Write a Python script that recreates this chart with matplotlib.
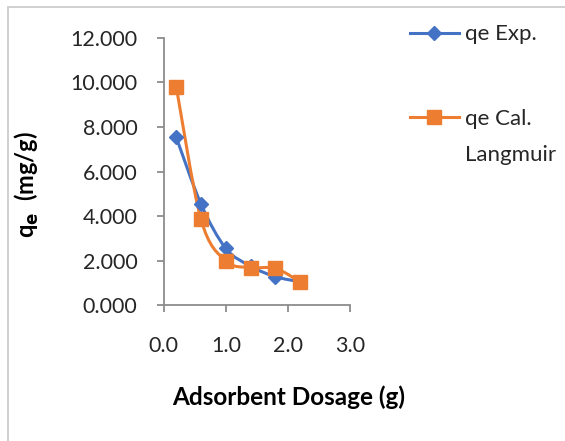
import matplotlib
matplotlib.use('Agg')
import matplotlib.pyplot as plt
from matplotlib.path import Path
from matplotlib.patches import PathPatch, Rectangle
from matplotlib.lines import Line2D

dosage = [0.2, 0.6, 1.0, 1.4, 1.8, 2.2]
qe_exp = [7.54, 4.54, 2.55, 1.75, 1.28, 1.05]
qe_cal = [9.81, 3.85, 1.99, 1.69, 1.65, 1.05]

x_ticks = [0.0, 1.0, 2.0, 3.0]
y_ticks = [0, 2, 4, 6, 8, 10, 12]

blue = '#4472C4'
orange = '#ED7D31'
grey = '#8c8c8c'
txt = '#262626'
plt.rcParams['font.family'] = ['Lato', 'DejaVu Sans']


def smooth_path(xs, ys):
    # excel style smoothed line: bezier segments, catmull-rom control points
    verts = [(xs[0], ys[0])]
    codes = [Path.MOVETO]
    n = len(xs)
    for i in range(n - 1):
        x0, y0 = (xs[i - 1], ys[i - 1]) if i > 0 else (xs[i], ys[i])
        x3, y3 = (xs[i + 2], ys[i + 2]) if i + 2 < n else (xs[i + 1], ys[i + 1])
        c1 = (xs[i] + (xs[i + 1] - x0) / 6, ys[i] + (ys[i + 1] - y0) / 6)
        c2 = (xs[i + 1] - (x3 - xs[i]) / 6, ys[i + 1] - (y3 - ys[i]) / 6)
        verts += [c1, c2, (xs[i + 1], ys[i + 1])]
        codes += [Path.CURVE4] * 3
    return Path(verts, codes)


fig = plt.figure(figsize=(5.65, 4.41), dpi=100)
ax = fig.add_axes([0.290, 0.308, 0.329, 0.606])

for ys, col in [(qe_exp, blue), (qe_cal, orange)]:
    ax.add_patch(PathPatch(smooth_path(dosage, ys), fill=False,
                           edgecolor=col, lw=2.2, capstyle='round'))
ax.plot(dosage, qe_exp, 'D', color=blue, ms=7, zorder=3)
ax.plot(dosage, qe_cal, 's', color=orange, ms=10, zorder=4)

ax.set_xlim(0, 3)
ax.set_ylim(0, 12)
ax.set_xticks(x_ticks)
ax.set_yticks(y_ticks)
ax.set_xticklabels(['%.1f' % v for v in x_ticks])
ax.set_yticklabels(['%.3f' % v for v in y_ticks])
for s in ['top', 'right']:
    ax.spines[s].set_visible(False)
for s in ['left', 'bottom']:
    ax.spines[s].set_color(grey)
    ax.spines[s].set_linewidth(1.3)
ax.tick_params(axis='both', colors=grey, width=1.3, length=5,
               labelcolor=txt, labelsize=15.5)
ax.tick_params(axis='x', pad=17)
ax.tick_params(axis='y', pad=14)

ax.set_xlabel('Adsorbent Dosage (g)', fontsize=17.5, fontweight='bold', color='black')
ax.xaxis.set_label_coords(0.67, -0.30)
ax.set_ylabel(r'q$_\mathbf{e}$  (mg/g)', fontsize=17, fontweight='bold', color='black')
ax.yaxis.set_label_coords(-0.66, 0.45)

# legend: excel puts the wrapped second line below, handle on the first line
handles = [Line2D([], [], color=blue, lw=2.2, marker='D', ms=7),
           Line2D([], [], color=orange, lw=2.2, marker='s', ms=10)]
leg = fig.legend(handles, ['qe Exp.', 'qe Cal.'], loc='upper left',
                 bbox_to_anchor=(0.69, 0.99), frameon=False, fontsize=16,
                 labelspacing=2.9, handlelength=2.2, handletextpad=0.3,
                 labelcolor=txt)
fig.canvas.draw()
bb = leg.get_texts()[1].get_window_extent().transformed(fig.transFigure.inverted())
fig.text(bb.x0, bb.y0 - 36 / 441, 'Langmuir', fontsize=16, color=txt,
         ha='left', va='bottom')

fig.patches.append(Rectangle((8 / 565, -0.1), 1.2, 1.1 - 7 / 441,
                             transform=fig.transFigure, fill=False,
                             edgecolor='#c8c8c8', lw=1.2))

fig.savefig('out.png', dpi=100)
